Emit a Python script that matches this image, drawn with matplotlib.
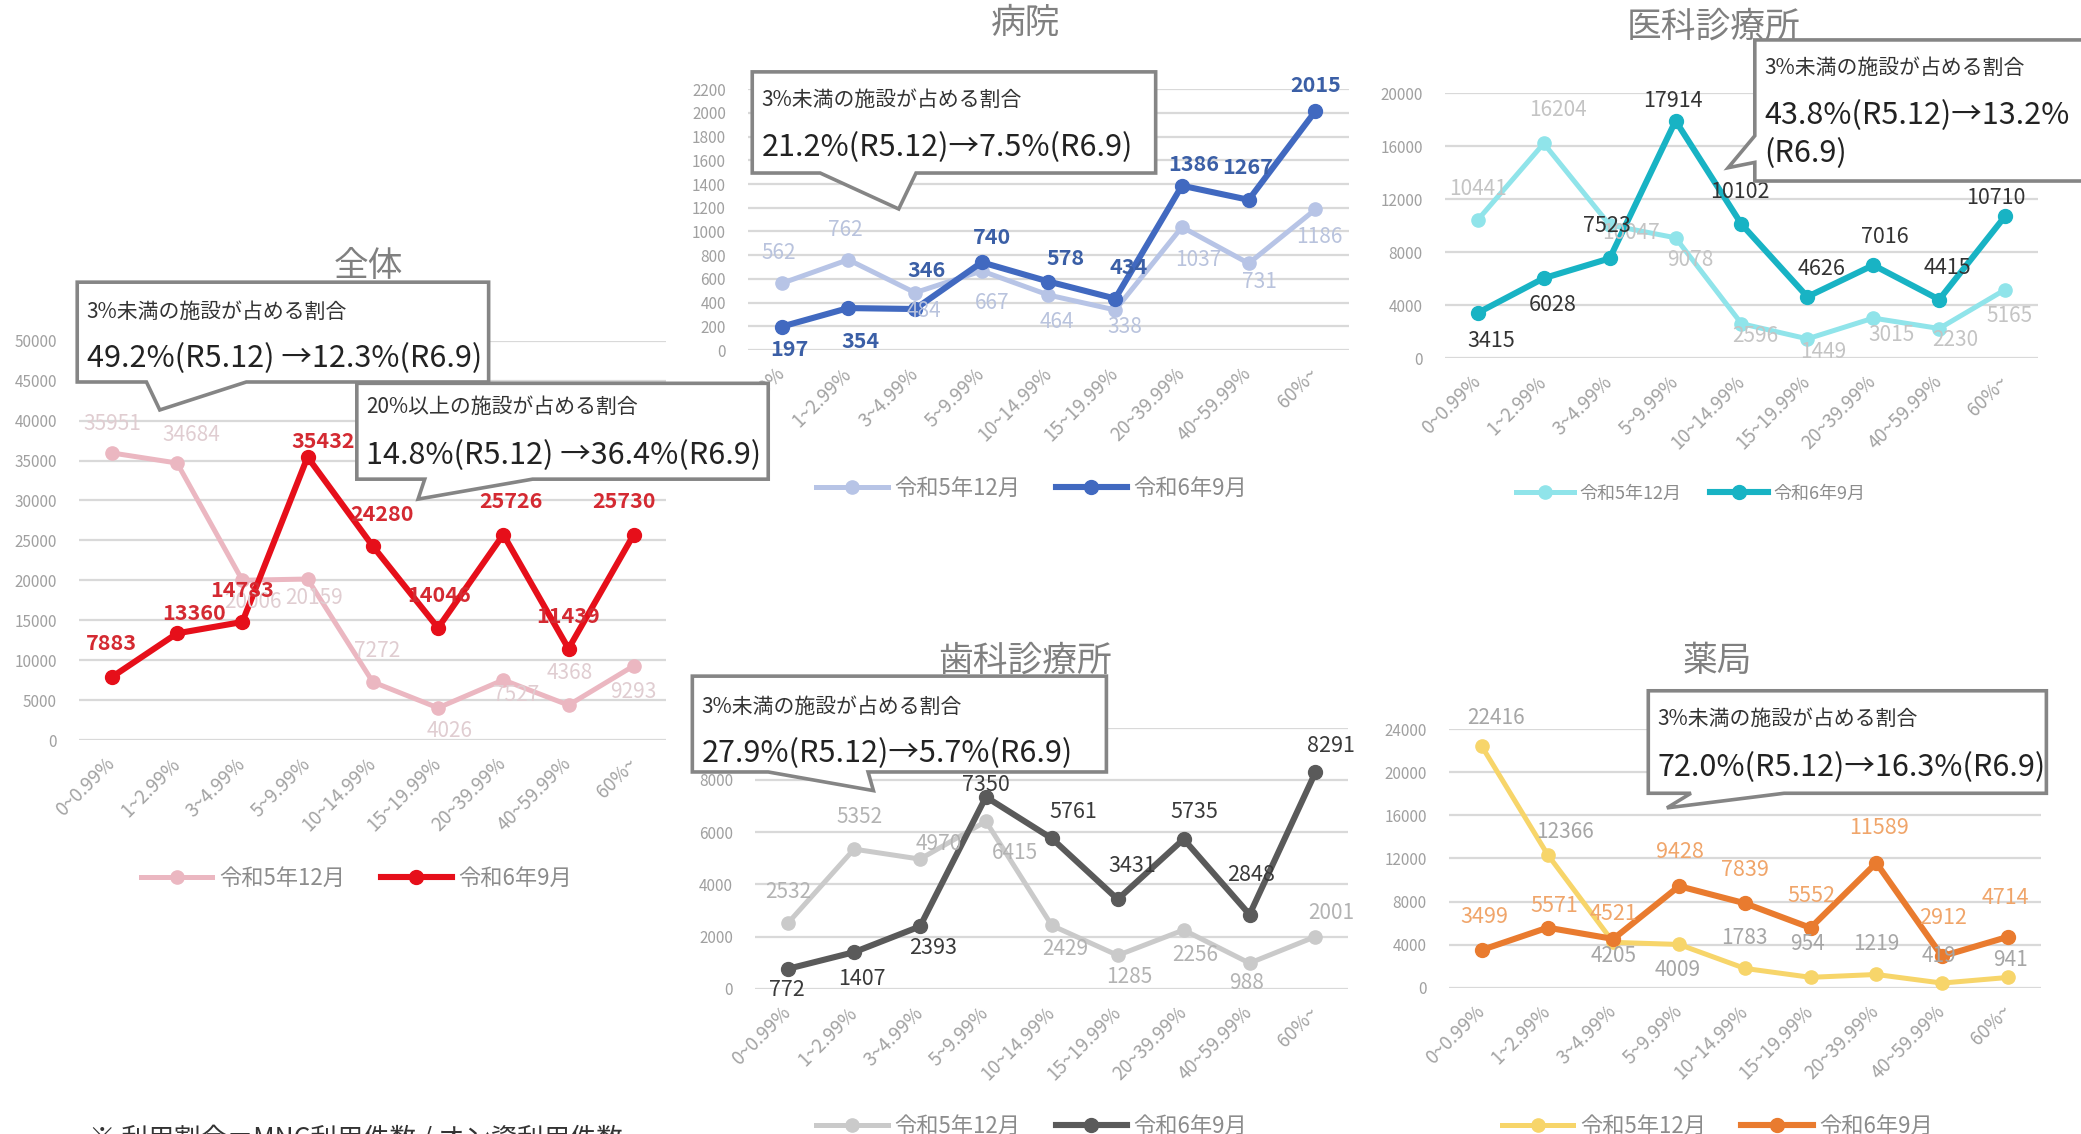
import matplotlib
matplotlib.use("Agg")
import matplotlib.pyplot as plt
from matplotlib.patches import Polygon
from matplotlib.lines import Line2D

plt.rcParams['font.family'] = ['Noto Sans CJK JP', 'DejaVu Sans']

# ---- data ----
categories = ["0~0.99%", "1~2.99%", "3~4.99%", "5~9.99%", "10~14.99%",
              "15~19.99%", "20~39.99%", "40~59.99%", "60%~"]
series_names = ["令和5年12月", "令和6年9月"]

all_r5 = [35951, 34684, 20006, 20159, 7272, 4026, 7527, 4368, 9293]
all_r6 = [7883, 13360, 14783, 35432, 24280, 14046, 25726, 11439, 25730]
hosp_r5 = [562, 762, 484, 667, 464, 338, 1037, 731, 1186]
hosp_r6 = [197, 354, 346, 740, 578, 434, 1386, 1267, 2015]
clinic_r5 = [10441, 16204, 10047, 9078, 2596, 1449, 3015, 2230, 5165]
clinic_r6 = [3415, 6028, 7523, 17914, 10102, 4626, 7016, 4415, 10710]
dental_r5 = [2532, 5352, 4970, 6415, 2429, 1285, 2256, 988, 2001]
dental_r6 = [772, 1407, 2393, 7350, 5761, 3431, 5735, 2848, 8291]
pharm_r5 = [22416, 12366, 4205, 4009, 1783, 954, 1219, 419, 941]
pharm_r6 = [3499, 5571, 4521, 9428, 7839, 5552, 11589, 2912, 4714]

titles = ["全体", "病院", "医科診療所", "歯科診療所", "薬局"]
note_small = "3%未満の施設が占める割合"
note_small2 = "20%以上の施設が占める割合"
note_all = "49.2%(R5.12) →12.3%(R6.9)"
note_all2 = "14.8%(R5.12) →36.4%(R6.9)"
note_hosp = "21.2%(R5.12)→7.5%(R6.9)"
note_clinic = "43.8%(R5.12)→13.2%"
note_clinic2 = "(R6.9)"
note_dental = "27.9%(R5.12)→5.7%(R6.9)"
note_pharm = "72.0%(R5.12)→16.3%(R6.9)"
footer = "※ 利用割合＝MNC利用件数 / オン資利用件数"

# ---- layout (units of a 1563 x 852 canvas, y downward) ----
W0, H0 = 1563.0, 852.0
S = 2081 / W0


def fx(x):
    return x / W0


def fy(y):
    return 1 - y / H0


# label offsets (layout px, +y up) per point
off_all5 = [(0, 22), (11, 21), (8, -16), (5, -14), (3, 23), (9, -17), (10, -11), (1, 24), (0, -20)]
off_all6 = [(0, 25), (13, 15), (0, 24), (12, 12), (7, 24), (1, 24), (6, 25), (0, 24), (-7, 25)]
off_hosp5 = [(-2, 23), (-2, 22), (7, -14), (8, -24), (6, -20), (7, -13), (12, -25), (8, -14), (3, -21)]
off_hosp6 = [(6, -17), (9, -25), (9, 29), (8, 19), (13, 17), (10, 23), (9, 16), (-1, 24), (0, 19)]
off_clin5 = [(0, 23), (11, 25), (16, -6), (11, -17), (10, -9), (12, -10), (14, -13), (12, -9), (3, -20)]
off_clin6 = [(10, -21), (7, -20), (-2, 24), (-2, 15), (-1, 24), (11, 21), (9, 21), (6, 24), (-7, 14)]
off_dent5 = [(0, 23), (4, 24), (14, 11), (22, -24), (10, -18), (9, -16), (9, -19), (-2, -15), (12, 18)]
off_dent6 = [(-1, -16), (6, -20), (10, -16), (0, 9), (16, 20), (11, 25), (8, 20), (1, 30), (12, 20)]
off_phar5 = [(11, 21), (13, 17), (0, -10), (-1, -19), (0, 23), (-2, 25), (0, 23), (-2, 20), (2, 13)]
off_phar6 = [(2, 25), (5, 16), (0, 19), (1, 26), (0, 25), (1, 24), (2, 26), (1, 29), (-2, 29)]

panels = [
    dict(title=titles[0], r5=all_r5, r6=all_r6, xs=(84, 476), ys=(556, 256), ymax=50000, step=5000,
         c5='#ebb7c1', c6='#e60f1a', t5='#e0cdd1', t6='#d42a32', w6='bold',
         o5=off_all5, o6=off_all6, tpos=(277, 200), leg=(268, 660), lfs=16),
    dict(title=titles[1], r5=hosp_r5, r6=hosp_r6, xs=(587, 988), ys=(263, 67), ymax=2200, step=200,
         c5='#b7c4e6', c6='#4169c0', t5='#b9c3dd', t6='#3b5fa6', w6='bold',
         o5=off_hosp5, o6=off_hosp6, tpos=(770, 18), leg=(775, 367), lfs=16),
    dict(title=titles[2], r5=clinic_r5, r6=clinic_r6, xs=(1110, 1506), ys=(269, 70), ymax=20000, step=4000,
         c5='#90e4ea', c6='#18b3c4', t5='#c4c4c4', t6='#333333', w6='normal',
         o5=off_clin5, o6=off_clin6, tpos=(1287, 20), leg=(1270, 371), lfs=13),
    dict(title=titles[3], r5=dental_r5, r6=dental_r6, xs=(592, 988), ys=(743, 546.75), ymax=10000, step=2000,
         c5='#cacaca', c6='#5a5a5a', t5='#b3b3b3', t6='#3a3a3a', w6='normal',
         o5=off_dent5, o6=off_dent6, tpos=(770, 497), leg=(775, 846), lfs=16),
    dict(title=titles[4], r5=pharm_r5, r6=pharm_r6, xs=(1113, 1508), ys=(742, 548), ymax=24000, step=4000,
         c5='#f7d56a', c6='#e97b2f', t5='#a6a6a6', t6='#f0a56a', w6='normal',
         o5=off_phar5, o6=off_phar6, tpos=(1290, 497), leg=(1290, 846), lfs=16),
]

fig = plt.figure(figsize=(20.81, 11.34), dpi=100)
xi = list(range(len(categories)))

for p in panels:
    x0, x1 = p['xs']
    st = (x1 - x0) / 8.0
    left, right = x0 - st / 2, x1 + st / 2
    ybot, ytop = p['ys']
    ax = fig.add_axes([fx(left), fy(ybot), (right - left) / W0, (ybot - ytop) / H0])
    ax.set_xlim(-0.5, 8.5)
    ax.set_ylim(0, p['ymax'])
    ax.set_yticks(range(0, p['ymax'] + 1, p['step']))
    ax.grid(axis='y', color='#d9d9d9', lw=1.6)
    ax.set_axisbelow(True)
    for s in ax.spines.values():
        s.set_visible(False)
    ax.tick_params(axis='y', length=0, pad=16, labelsize=11, labelcolor='#a0a0a0')
    ax.tick_params(axis='x', length=0, pad=15)
    ax.set_xticks(xi)
    ax.set_xticklabels(categories, rotation=45, ha='right', va='center',
                       rotation_mode='anchor', fontsize=13.5, color='#a3a3a3')
    ax.patch.set_alpha(0)

    ax.plot(xi, p['r5'], color=p['c5'], lw=3.6, marker='o', ms=9.5, zorder=2, clip_on=False)
    ax.plot(xi, p['r6'], color=p['c6'], lw=4.4, marker='o', ms=10, zorder=3, clip_on=False)
    for i, v in enumerate(p['r5']):
        dx, dy = p['o5'][i]
        ax.annotate(str(v), (i, v), xytext=(dx * S, dy * S), textcoords='offset pixels',
                    ha='center', va='center', fontsize=15, color=p['t5'],
                    zorder=4, annotation_clip=False)
    for i, v in enumerate(p['r6']):
        dx, dy = p['o6'][i]
        ax.annotate(str(v), (i, v), xytext=(dx * S, dy * S), textcoords='offset pixels',
                    ha='center', va='center', fontsize=15.5, color=p['t6'], fontweight=p['w6'],
                    zorder=5, annotation_clip=False)

    fig.text(fx(p['tpos'][0]), fy(p['tpos'][1]), p['title'], ha='center', va='center',
             fontsize=25, color='#808080', zorder=1)

    handles = [Line2D([], [], color=p['c5'], lw=3.6, marker='o', ms=9.5),
               Line2D([], [], color=p['c6'], lw=4.4, marker='o', ms=10)]
    fig.legend(handles, series_names, loc='center', bbox_to_anchor=(fx(p['leg'][0]), fy(p['leg'][1])),
               ncol=2, frameon=False, handlelength=3.2, columnspacing=1.6, handletextpad=0.3,
               fontsize=p['lfs'], labelcolor='#8c8c8c')

# ---- callouts ----
callouts = [
    ([(58, 212), (367, 212), (367, 287), (185, 287), (120, 308), (110, 287), (58, 287)],
     (65, 234, note_small), [(65, 269, note_all)]),
    ([(268, 288), (577, 288), (577, 360), (400, 360), (314, 375), (319, 360), (268, 360)],
     (275, 306, note_small2), [(275, 342, note_all2)]),
    ([(565, 54), (868, 54), (868, 130), (688, 130), (675, 157), (616, 130), (565, 130)],
     (572, 75, note_small), [(572, 111, note_hosp)]),
    ([(1318, 30), (1590, 30), (1590, 136), (1318, 136), (1318, 122), (1298, 126), (1318, 102)],
     (1325, 51, note_small), [(1325, 87, note_clinic), (1325, 115, note_clinic2)]),
    ([(520, 508), (831, 508), (831, 580), (652, 580), (656, 594), (577, 580), (520, 580)],
     (527, 531, note_small), [(527, 566, note_dental)]),
    ([(1238, 519), (1537, 519), (1537, 596), (1340, 596), (1252, 607), (1270, 596), (1238, 596)],
     (1245, 540, note_small), [(1245, 577, note_pharm)]),
]
for pts, small, bigs in callouts:
    poly = Polygon([(fx(x), fy(y)) for x, y in pts], closed=True, transform=fig.transFigure,
                   facecolor='white', edgecolor='#858585', lw=2.6, zorder=10)
    fig.patches.append(poly)
    fig.text(fx(small[0]), fy(small[1]), small[2], ha='left', va='center',
             fontsize=15, color='#333333', zorder=11)
    for bx, by, bt in bigs:
        fig.text(fx(bx), fy(by), bt, ha='left', va='center',
                 fontsize=22, color='#222222', zorder=11)

fig.text(fx(67), fy(846), footer, ha='left', va='top', fontsize=19, color='#333333')

fig.savefig("out.png", dpi=100)
